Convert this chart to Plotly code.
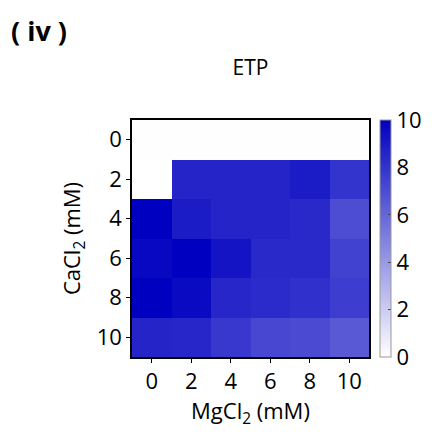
import plotly.graph_objects as go

mgcl2 = ["0", "2", "4", "6", "8", "10"]
cacl2 = ["0", "2", "4", "6", "8", "10"]
etp = [
    [0.05, 0.05, 0.05, 0.05, 0.05, 0.05],
    [0.0, 8.6, 8.6, 8.6, 8.9, 8.0],
    [10.0, 8.9, 8.6, 8.6, 8.4, 7.0],
    [9.7, 10.0, 9.2, 8.4, 8.4, 7.4],
    [10.0, 9.6, 8.5, 8.3, 8.1, 7.6],
    [8.6, 8.5, 7.8, 7.2, 7.1, 6.5],
]

font = "Open Sans, Lato, sans-serif"
L, R, T, B = 132, 63, 120, 79
W, H = 432, 436
pw = W - L - R
ph = H - T - B

fig = go.Figure(go.Heatmap(
    x=mgcl2, y=cacl2, z=etp, zmin=0, zmax=10,
    colorscale=[[0, "rgb(255,255,255)"], [1, "rgb(0,0,192)"]],
    colorbar=dict(
        thickness=11, len=1, lenmode="fraction", y=0.5, yanchor="middle",
        x=(380 - L) / pw, xanchor="left", xpad=0, ypad=0,
        outlinewidth=1, outlinecolor="#999999",
        tickvals=[0, 2, 4, 6, 8, 10], ticks="inside", ticklen=3,
        tickcolor="#444", tickfont=dict(size=22, family=font, color="black"),
    ),
))

fig.update_layout(
    width=W, height=H,
    margin=dict(l=L, r=R, t=T, b=B, autoexpand=False),
    paper_bgcolor="white", plot_bgcolor="white",
    font=dict(family=font, color="black"),
    title=dict(text="ETP", x=(L + pw / 2) / W, xanchor="center",
               y=1 - 68 / H, yanchor="middle", font=dict(size=21, family=font)),
    xaxis=dict(type="category", showline=True, linecolor="black", linewidth=1.5,
               mirror=True, ticks="outside", ticklen=4, tickcolor="black",
               tickfont=dict(size=22, family=font),
               title=dict(text="MgCl<sub>2</sub> (mM)", font=dict(size=22, family=font), standoff=8)),
    yaxis=dict(type="category", autorange="reversed", showline=True, linecolor="black",
               linewidth=1.5, mirror=True, ticks="outside", ticklen=4, tickcolor="black",
               tickfont=dict(size=22, family=font),
               title=dict(text="CaCl<sub>2</sub> (mM)", font=dict(size=22, family=font), standoff=10)),
    annotations=[dict(text="<b>( iv )</b>", x=(9 - L) / pw, y=1 + (T - 30) / ph,
                      xref="paper", yref="paper",
                      xanchor="left", yanchor="middle", showarrow=False,
                      font=dict(size=27, family=font, color="black"))],
)

fig.write_html("out.html")
